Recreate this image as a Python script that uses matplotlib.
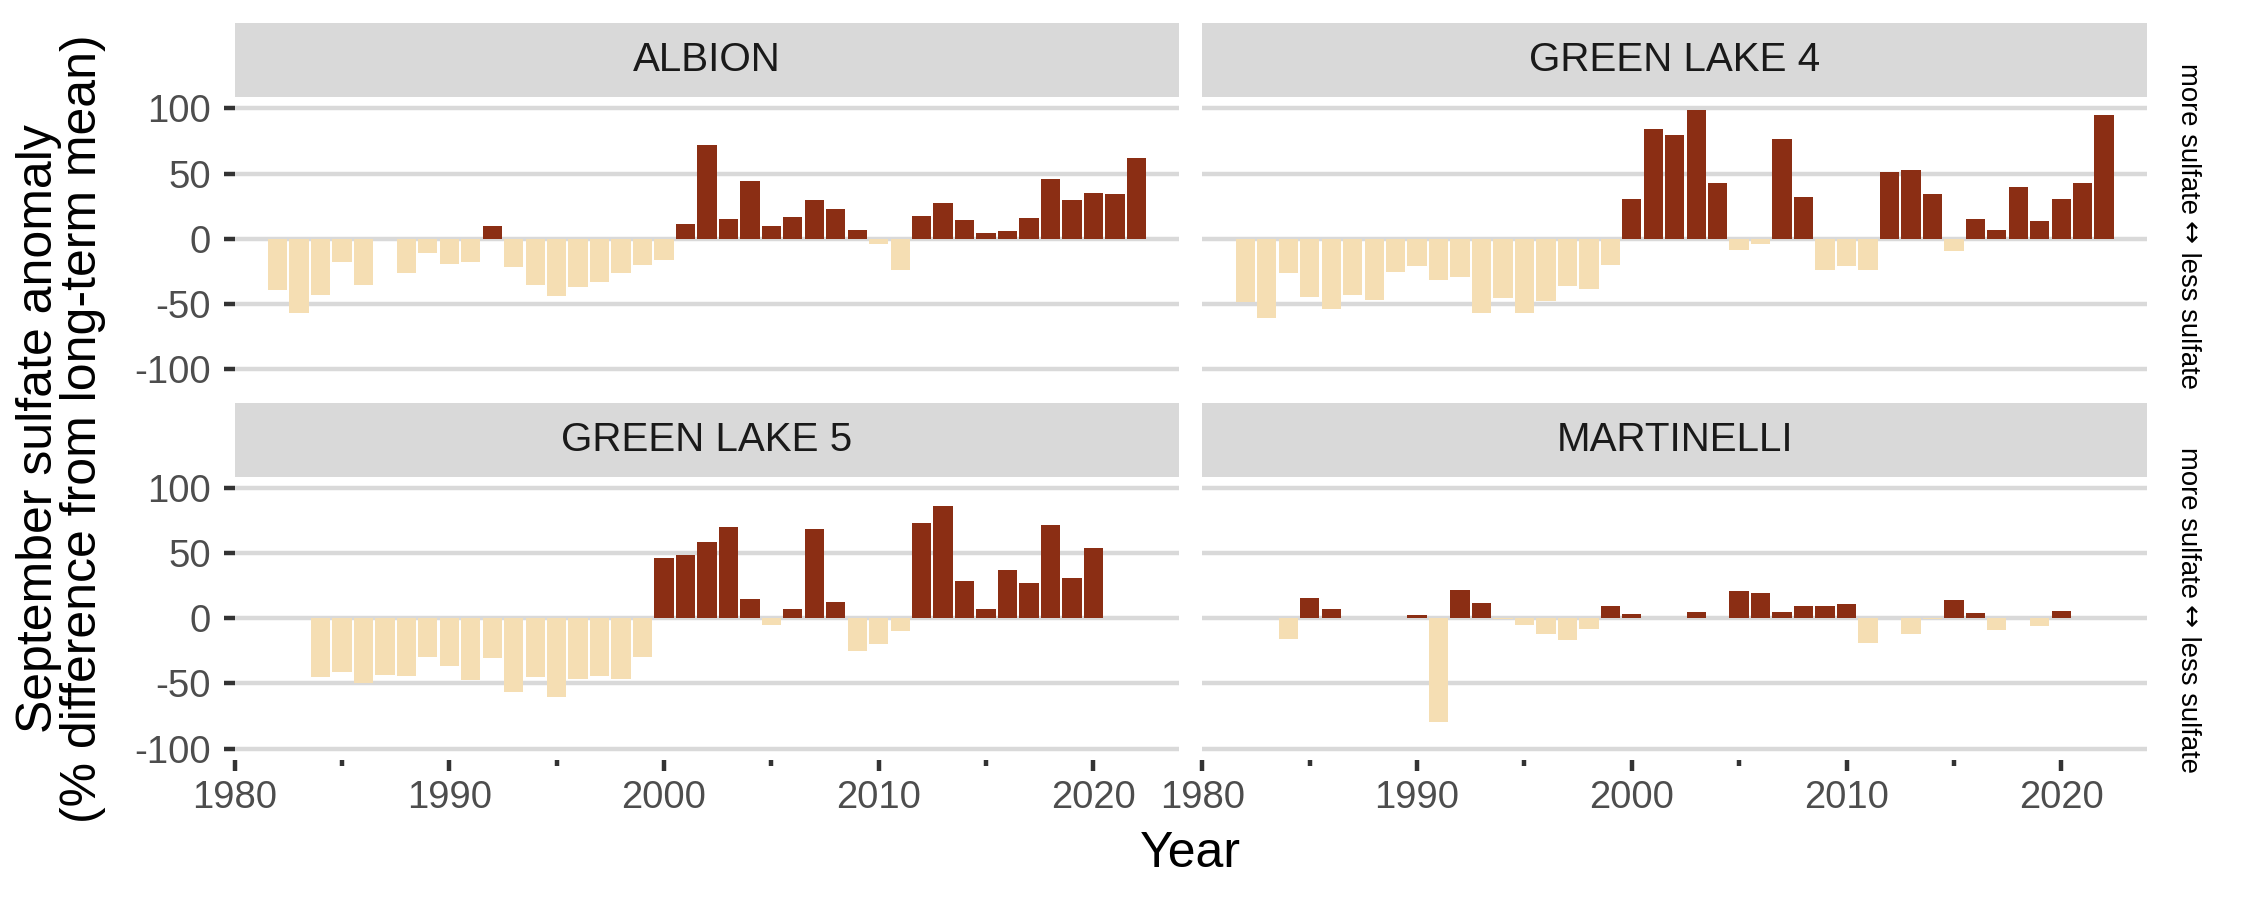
import numpy as np
import matplotlib
matplotlib.use("Agg")
import matplotlib.pyplot as plt
from matplotlib.ticker import FixedLocator

plt.rcParams['font.family'] = ['Liberation Sans', 'DejaVu Sans']

sites = ["ALBION", "GREEN LAKE 4", "GREEN LAKE 5", "MARTINELLI"]

years_albion = list(range(1982, 2023))
albion = [-39.4, -57, -43.2, -17.9, -35.5, np.nan, -26.3, -11, -19.4, -17.9,
          9.7, -21.7, -35.5, -44, -37, -33.2, -26.3, -20.2, -16.4, 11.3,
          71.9, 15.1, 44.2, 9.7, 16.6, 29.7, 22.8, 6.6, -4.1, -24,
          17.4, 27.4, 14.3, 4.3, 5.9, 15.9, 45.8, 29.7, 35, 34.3, 61.9]

years_gl4 = list(range(1982, 2023))
green_lake_4 = [-48.3, -60.9, -26.3, -44.8, -54, -43.2, -47.1, -25.6, -21, -31.7,
                -29.4, -57, -45.5, -57, -47.8, -36.3, -38.6, -20.2,
                30.4, 84.1, 79.5, 98.7, 42.7, -8.7, -4.1, 76.5, 32, -24,
                -21, -24, 51.2, 52.7, 34.3, -9.5, 15.1, 6.6, 39.6, 13.6,
                30.4, 42.7, 94.9]

years_gl5 = list(range(1984, 2021))
green_lake_5 = [-44.8, -40.9, -49.4, -43.2, -44, -29.4, -36.3, -47.1, -30.2, -56.3,
                -44.8, -60.1, -46.3, -44, -46.3, -29.4,
                46.5, 48.8, 58.8, 70.3, 15.1, -4.9, 7.4, 68.8, 12.8, -24.8,
                -19.4, -9.5, 73.4, 86.4, 28.9, 7.4, 37.3, 27.4, 71.9, 31.2, 54.2]

years_mart = list(range(1984, 2021))
martinelli = [-15.6, 15.9, 7.4, np.nan, np.nan, np.nan, 2.8, -79.3, 22, 12,
              -0.8, -4.9, -11.8, -16.4, -7.9, 9.7, 3.6, np.nan, np.nan, 5.1,
              np.nan, 21.2, 19.7, 5.1, 9.7, 9.7, 11.3, -18.7, np.nan, -11.8,
              -0.8, 14.3, 4.3, -8.7, np.nan, -5.6, 5.9]

data = [(years_albion, albion), (years_gl4, green_lake_4),
        (years_gl5, green_lake_5), (years_mart, martinelli)]

y_ticks = [-100, -50, 0, 50, 100]
x_major = [1980, 1990, 2000, 2010, 2020]
x_minor = [1985, 1995, 2005, 2015]
side_parts = ["more sulfate ", "\u2194", " less sulfate"]

col_pos = "#8B2E14"
col_neg = "#F5DEB3"
grid_col = "#D9D9D9"
strip_col = "#D9D9D9"

W, H = 2250, 900
fig = plt.figure(figsize=(7.5, 3), dpi=300)

panel_left = [234.6, 1202.4]
panel_w = 944.7
row_panel = [(97, 380.7), (476.7, 760)]
row_strip = [(23.3, 96.7), (403.3, 476.7)]

lw = 1.07
for i, (yrs, vals) in enumerate(data):
    r, c = divmod(i, 2)
    x0 = panel_left[c]
    t, b = row_panel[r]
    ax = fig.add_axes([x0 / W, 1 - b / H, panel_w / W, (b - t) / H])
    ax.set_xlim(1980, 2024)
    ax.set_ylim(-108.8, 108.8)
    for s in ax.spines.values():
        s.set_visible(False)
    for yt in y_ticks:
        ax.axhline(yt, color=grid_col, lw=lw, zorder=0)
    yrs = np.array(yrs)
    vals = np.array(vals, dtype=float)
    ok = ~np.isnan(vals)
    colors = [col_pos if v > 0 else col_neg for v in vals[ok]]
    ax.bar(yrs[ok], vals[ok], width=0.9, color=colors, zorder=2, linewidth=0)
    ax.set_yticks(y_ticks)
    ax.set_yticklabels([str(v) for v in y_ticks])
    ax.xaxis.set_major_locator(FixedLocator(x_major))
    ax.xaxis.set_minor_locator(FixedLocator(x_minor))
    ax.yaxis.set_minor_locator(FixedLocator([]))
    ax.tick_params(axis='y', length=2.75, width=lw, color='#333333',
                   labelsize=9.2, labelcolor='#4D4D4D', pad=2.9,
                   left=(c == 0), labelleft=(c == 0))
    ax.tick_params(axis='x', which='major', length=2.75, width=lw, color='#333333',
                   labelsize=9.2, labelcolor='#4D4D4D', pad=2.0,
                   bottom=(r == 1), labelbottom=(r == 1))
    ax.tick_params(axis='x', which='minor', length=1.4, width=lw, color='#333333',
                   bottom=(r == 1))
    ax.set_facecolor('white')

    st, sb = row_strip[r]
    sax = fig.add_axes([x0 / W, 1 - sb / H, panel_w / W, (sb - st) / H])
    sax.set_facecolor(strip_col)
    sax.set_xticks([])
    sax.set_yticks([])
    for s in sax.spines.values():
        s.set_visible(False)
    sax.text(0.5, 0.5, sites[i], ha='center', va='center', fontsize=9.7,
             color='#1A1A1A', transform=sax.transAxes)

fig.text((234.6 + 2147.1) / 2 / W, 1 - 867 / H, "Year", ha='center',
         va='baseline', fontsize=12, color='black')
fig.text(61 / W, 1 - 428.5 / H,
         "September sulfate anomaly\n(% difference from long-term mean)",
         ha='center', va='center', rotation=90, fontsize=12, color='black',
         linespacing=0.95, multialignment='center')

# side annotation: assembled from pieces so the arrow can use a wider glyph
renderer = fig.canvas.get_renderer()
fams = [['Liberation Sans'], ['DejaVu Sans'], ['Liberation Sans']]
for cy in [226, 610]:
    texts = []
    for part, fam in zip(side_parts, fams):
        tt = fig.text(0, 0, part, rotation=270, fontsize=6.6, family=fam,
                      ha='center', va='center', color='black')
        texts.append(tt)
    heights = [tt.get_window_extent(renderer).height for tt in texts]
    total = sum(heights)
    y_top = (H - cy) + total / 2
    for tt, h in zip(texts, heights):
        yc = y_top - h / 2
        tt.set_position((2188 / W, yc / H))
        y_top -= h

fig.savefig("out.png", dpi=300, facecolor='white')
